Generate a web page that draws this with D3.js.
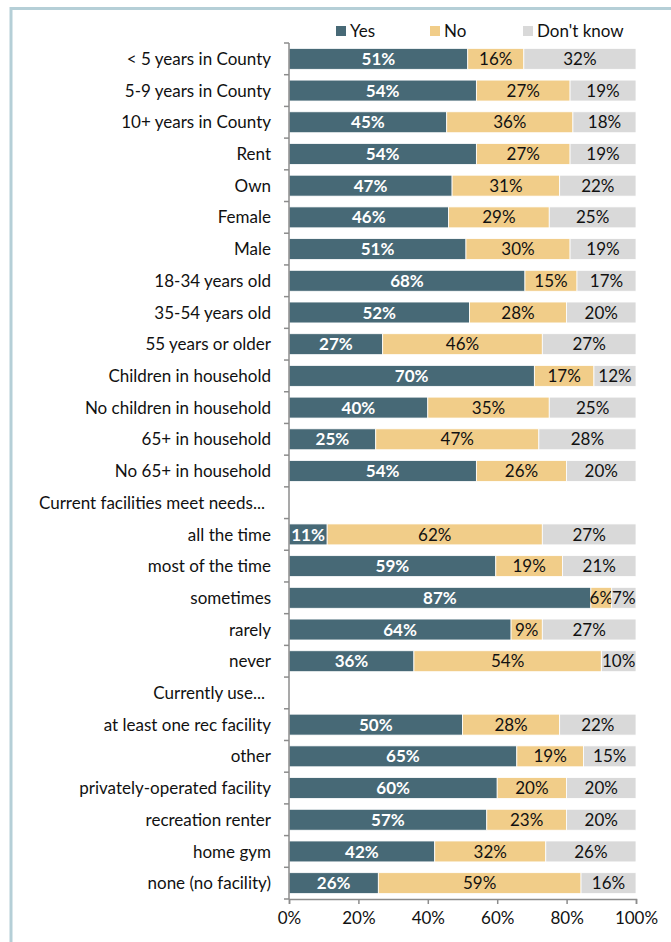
<!DOCTYPE html>
<html>
<head>
<meta charset="utf-8">
<script src="https://cdn.jsdelivr.net/npm/d3@7"></script>
<style>
  html, body { margin: 0; padding: 0; background: #fff; }
  svg { display: block; }
  text { font-family: Lato, "Open Sans", sans-serif; }
</style>
</head>
<body>
<svg id="chart" width="671" height="942"></svg>
<script>
// Survey responses by group: share answering Yes / No / Don't know (percent).
// Header rows carry no values (null) and only show their label.
const categories = [
  "< 5 years in County", "5-9 years in County", "10+ years in County",
  "Rent", "Own", "Female", "Male",
  "18-34 years old", "35-54 years old", "55 years or older",
  "Children in household", "No children in household",
  "65+ in household", "No 65+ in household",
  "Current facilities meet needs...",
  "all the time", "most of the time", "sometimes", "rarely", "never",
  "Currently use...",
  "at least one rec facility", "other", "privately-operated facility",
  "recreation renter", "home gym", "none (no facility)"
];
const yesValues = [51, 54, 45, 54, 47, 46, 51, 68, 52, 27, 70, 40, 25, 54, null,
  11, 59, 87, 64, 36, null, 50, 65, 60, 57, 42, 26];
const noValues = [16, 27, 36, 27, 31, 29, 30, 15, 28, 46, 17, 35, 47, 26, null,
  62, 19, 6, 9, 54, null, 28, 19, 20, 23, 32, 59];
const dontKnowValues = [32, 19, 18, 19, 22, 25, 19, 17, 20, 27, 12, 25, 28, 20, null,
  27, 21, 7, 27, 10, null, 22, 15, 20, 20, 26, 16];
const seriesNames = ["Yes", "No", "Don't know"];
const xTicks = [0, 0.2, 0.4, 0.6, 0.8, 1];

const colors = { "Yes": "#476976", "No": "#f1cd89", "Don't know": "#d9d9d9" };
const FONT = 17;

const svg = d3.select("#chart");

// Light frame around the chart area
svg.append("rect")
  .attr("x", 11).attr("y", 8.5)
  .attr("width", 700).attr("height", 960)
  .attr("fill", "none").attr("stroke", "#b5cfd7").attr("stroke-width", 3);

const rows = categories.map((c, i) => ({
  category: c,
  "Yes": yesValues[i], "No": noValues[i], "Don't know": dontKnowValues[i]
}));

const x = d3.scaleLinear().domain([0, 1]).range([289, 636]);
const y = d3.scaleBand().domain(categories).range([43, 899]).paddingInner(0.34).paddingOuter(0.17);

const dataRows = rows.filter(r => r["Yes"] !== null);
const stacked = d3.stack()
  .keys(seriesNames)
  .offset(d3.stackOffsetExpand)(dataRows);

const g = svg.append("g");
stacked.forEach(layer => {
  const key = layer.key;
  g.selectAll(null).data(layer).enter().append("rect")
    .attr("x", d => x(d[0]))
    .attr("y", d => y(d.data.category))
    .attr("width", d => x(d[1]) - x(d[0]))
    .attr("height", y.bandwidth())
    .attr("fill", colors[key])
    .attr("stroke", "#fff").attr("stroke-width", 0.8);

  g.selectAll(null).data(layer).enter().append("text")
    .attr("x", d => (x(d[0]) + x(d[1])) / 2)
    .attr("y", d => y(d.data.category) + y.bandwidth() / 2)
    .attr("dy", "0.36em")
    .attr("text-anchor", "middle")
    .attr("font-size", FONT)
    .attr("font-weight", key === "Yes" ? "bold" : "normal")
    .attr("fill", key === "Yes" ? "#fff" : "#111")
    .text(d => d.data[key] + "%");
});

// Category axis: line with ticks on row boundaries
const yAxisG = svg.append("g");
const boundaries = d3.range(categories.length + 1).map(i => 43 + i * y.step());
yAxisG.append("line")
  .attr("x1", 289).attr("x2", 289).attr("y1", 43).attr("y2", 899)
  .attr("stroke", "#8c8c8c").attr("stroke-width", 1.5);
yAxisG.selectAll(null).data(boundaries).enter().append("line")
  .attr("x1", 284).attr("x2", 289).attr("y1", d => d).attr("y2", d => d)
  .attr("stroke", "#8c8c8c").attr("stroke-width", 1.5);
yAxisG.selectAll(null).data(rows).enter().append("text")
  // section headers sit slightly further from the axis
  .attr("x", d => d["Yes"] === null ? 265 : 271)
  .attr("y", d => y(d.category) + y.bandwidth() / 2)
  .attr("dy", "0.36em")
  .attr("text-anchor", "end")
  .attr("font-size", FONT)
  .attr("fill", "#111")
  .text(d => d.category);

// Percent axis along the bottom
const xAxis = d3.axisBottom(x).tickValues(xTicks).tickFormat(d3.format(".0%")).tickSize(5).tickPadding(8);
const xAxisG = svg.append("g").attr("transform", "translate(0,899)").call(xAxis);
xAxisG.select(".domain").attr("stroke", "#8c8c8c").attr("stroke-width", 1.5);
xAxisG.selectAll(".tick line").attr("stroke", "#8c8c8c").attr("stroke-width", 1.5);
xAxisG.selectAll(".tick text").attr("font-size", FONT).attr("fill", "#111")
  .attr("font-family", "Lato, 'Open Sans', sans-serif");

// Legend
const legendX = [336, 430, 523];
const legend = svg.append("g");
seriesNames.forEach((name, i) => {
  legend.append("rect")
    .attr("x", legendX[i]).attr("y", 26).attr("width", 10).attr("height", 10)
    .attr("fill", colors[name]);
  legend.append("text")
    .attr("x", legendX[i] + 14).attr("y", 31).attr("dy", "0.36em")
    .attr("font-size", FONT).attr("fill", "#111")
    .text(name);
});
</script>
</body>
</html>
